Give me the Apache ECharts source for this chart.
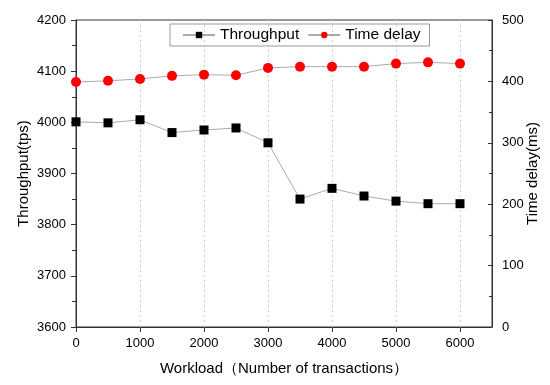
<!DOCTYPE html>
<html><head><meta charset="utf-8">
<script src="https://cdn.jsdelivr.net/npm/echarts@6/dist/echarts.min.js"></script>
<style>html,body{margin:0;padding:0;background:#fff}#c{width:550px;height:385px}</style>
</head><body><div id="c"></div>
<script>
const workload = [0, 500, 1000, 1500, 2000, 2500, 3000, 3500, 4000, 4500, 5000, 5500, 6000];
const throughput = [4001, 3999, 4005, 3980, 3985, 3989, 3960, 3850, 3871, 3856, 3846, 3841, 3841];
const timeDelay = [399, 401, 404, 409, 411, 410, 422, 424, 424, 424, 429, 431, 429];
const seriesNames = ['Throughput', 'Time delay'];

const chart = echarts.init(document.getElementById('c'));
const font = 'Liberation Sans, Arial, sans-serif';
const axisCol = '#333';
chart.setOption({
  animation: false,
  textStyle: { fontFamily: font },
  grid: { left: 76, right: 58, top: 20, bottom: 58, show: true, borderColor: axisCol, borderWidth: 1,
          containLabel: false, outerBoundsMode: 'none' },
  legend: {
    data: seriesNames,
    left: 170, top: 24,
    padding: [3, 9, 3, 12],
    borderColor: '#999', borderWidth: 1,
    itemWidth: 32, itemHeight: 8, itemGap: 8,
    textStyle: { fontSize: 15.5, color: '#000', fontFamily: font }
  },
  xAxis: {
    type: 'value', min: 0, max: 6500, interval: 1000,
    name: 'Workload（Number of transactions）', nameLocation: 'middle', nameGap: 34,
    nameTextStyle: { fontSize: 15, color: '#000', fontFamily: font },
    axisLine: { lineStyle: { color: axisCol } },
    axisTick: { inside: false, length: 5, lineStyle: { color: axisCol } },
    axisLabel: { fontSize: 13, color: '#000', showMaxLabel: false, margin: 10,
      formatter: v => (v % 1000 === 0 ? String(v) : '') },
    splitLine: { show: true, lineStyle: { color: '#ccc', type: [2, 3] } }
  },
  yAxis: [{
    type: 'value', min: 3600, max: 4200, interval: 100, position: 'left',
    name: 'Throughput(tps)', nameLocation: 'middle', nameGap: 45, nameRotate: 90,
    nameMoveOverlap: false,
    nameTextStyle: { fontSize: 15, color: '#000', fontFamily: font },
    axisLine: { show: true, lineStyle: { color: axisCol } },
    axisTick: { show: true, length: 5, lineStyle: { color: axisCol } },
    minorTick: { show: true, splitNumber: 2, length: 4, lineStyle: { color: axisCol } },
    axisLabel: { fontSize: 13, color: '#000', margin: 10, formatter: v => String(v) },
    splitLine: { show: false }
  }, {
    type: 'value', min: 0, max: 500, interval: 100, position: 'right',
    name: 'Time delay(ms)', nameLocation: 'middle', nameGap: 33, nameRotate: 90,
    nameMoveOverlap: false,
    nameTextStyle: { fontSize: 15, color: '#000', fontFamily: font },
    axisLine: { show: true, lineStyle: { color: axisCol } },
    axisTick: { show: true, inside: true, length: 4, lineStyle: { color: axisCol } },
    minorTick: { show: true, splitNumber: 2, length: 3, lineStyle: { color: axisCol } },
    axisLabel: { fontSize: 13, color: '#000', margin: 10, formatter: v => String(v) },
    splitLine: { show: false }
  }],
  series: [{
    name: seriesNames[0], type: 'line', yAxisIndex: 0,
    data: workload.map((w, i) => [w, throughput[i]]),
    symbol: 'rect', symbolSize: 9,
    itemStyle: { color: '#000' },
    lineStyle: { color: '#aaa', width: 1 }
  }, {
    name: seriesNames[1], type: 'line', yAxisIndex: 1,
    data: workload.map((w, i) => [w, timeDelay[i]]),
    symbol: 'circle', symbolSize: 10,
    itemStyle: { color: '#ff0000' },
    lineStyle: { color: '#aaa', width: 1 }
  }]
});
</script></body></html>
